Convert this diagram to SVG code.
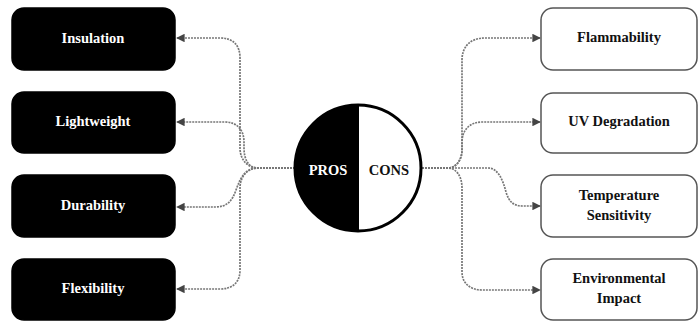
<svg xmlns="http://www.w3.org/2000/svg" width="699" height="321" viewBox="0 0 699 321">
<defs>
<marker id="arr" viewBox="0 0 10 10" refX="9" refY="5" markerWidth="5" markerHeight="5" orient="auto">
<path d="M0,0 L10,5 L0,10 z" fill="#444"/>
</marker>
<style>
.pro rect{fill:#000;stroke:#000;stroke-width:1.5}
.con rect{fill:#fff;stroke:#555;stroke-width:1.5}
text{font-family:"Liberation Serif","Times New Roman",serif;font-weight:bold;font-size:14.5px;text-anchor:middle;dominant-baseline:central}
.pro text{fill:#fff}
.con text{fill:#111}
.edge{fill:none;stroke:#777;stroke-width:1.7;stroke-dasharray:2 1;marker-end:url(#arr)}
</style>
</defs>
<g id="connectors">
<path class="edge" d="M295,168 H258 C248,168 240,160 240,148 V58 C240,45 233,38 220,38 H177"/>
<path class="edge" d="M295,168 H258 C249,168 244,160 244,148 V142 C244,130 237,122 225,122 H177"/>
<path class="edge" d="M295,168 H258 C246,168 241,176 236,190 C232,202 226,207 215,207 H177"/>
<path class="edge" d="M295,168 H258 C248,168 240,176 240,188 V270 C240,282 233,289 220,289 H177"/>
<path class="edge" d="M422,168 H448 C456,168 462,160 462,150 V60 C462,47 470,38 485,38 H540"/>
<path class="edge" d="M422,168 H448 C456,168 462,160 462,150 V142 C462,130 470,122 482,122 H540"/>
<path class="edge" d="M422,168 H488 C498,168 503,180 506,192 C509,202 514,206 522,206 H540"/>
<path class="edge" d="M422,168 H448 C456,168 462,176 462,188 V272 C462,283 470,290 482,290 H540"/>
</g>
<g id="center">
<path d="M358,105 A63,63 0 0 0 358,231 Z" fill="#000"/>
<path d="M358,105 A63,63 0 0 1 358,231 Z" fill="#fff"/>
<circle cx="358" cy="168" r="63" fill="none" stroke="#000" stroke-width="3"/>
<line x1="358" y1="105" x2="358" y2="231" stroke="#000" stroke-width="2"/>
<text x="328" y="170" fill="#fff">PROS</text>
<text x="389" y="170" fill="#111">CONS</text>
</g>
<g id="insulation" class="pro"><rect x="12" y="8" width="163" height="62" rx="12"/><text x="93" y="38">Insulation</text></g>
<g id="lightweight" class="pro"><rect x="12" y="92" width="163" height="61" rx="12"/><text x="93" y="121">Lightweight</text></g>
<g id="durability" class="pro"><rect x="12" y="175" width="163" height="62" rx="12"/><text x="93" y="205">Durability</text></g>
<g id="flexibility" class="pro"><rect x="12" y="259" width="163" height="61" rx="12"/><text x="93" y="288">Flexibility</text></g>
<g id="flammability" class="con"><rect x="541" y="8" width="156" height="62" rx="12"/><text x="619" y="37">Flammability</text></g>
<g id="uv" class="con"><rect x="541" y="93" width="156" height="60" rx="12"/><text x="619" y="121">UV Degradation</text></g>
<g id="temperature" class="con"><rect x="541" y="175" width="156" height="62" rx="12"/><text x="619" y="195">Temperature</text><text x="619" y="215">Sensitivity</text></g>
<g id="environmental" class="con"><rect x="541" y="259" width="156" height="61" rx="12"/><text x="619" y="278">Environmental</text><text x="619" y="298">Impact</text></g>
</svg>
